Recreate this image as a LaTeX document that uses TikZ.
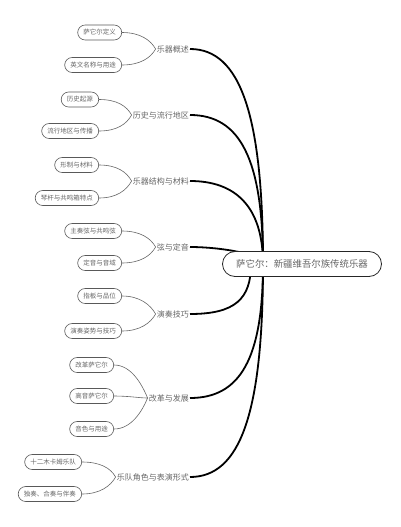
\documentclass[tikz,border=0pt]{standalone}
\usepackage{fontspec}
\newfontfamily\cjk{Noto Sans CJK SC}

\begin{document}
\begin{tikzpicture}[x=1pt,y=-1pt,
	leaf/.style={draw=black!65,line width=0.6pt,rounded corners=7.5pt,minimum height=15pt,inner xsep=5.75pt,inner ysep=0pt,anchor=east,text=black!60,font=\cjk\fontsize{6.5}{7}\selectfont},
	topic/.style={anchor=east,inner sep=1pt,text=black!60,font=\cjk\fontsize{8}{9}\selectfont},
	root/.style={draw=black!85,fill=white,line width=0.8pt,rounded corners=12.5pt,minimum height=25pt,minimum width=159pt,text=black!60,font=\cjk\fontsize{9.4}{11}\selectfont},
	twig/.style={draw=black!60,line width=0.6pt},
	limb/.style={draw=black,line width=1.8pt}]
	\useasboundingbox (0,0) rectangle (400,527);
	
	%TOPICS
	\node[topic] (t1) at (190,49) {乐器概述};
	\node[topic] (t2) at (190,115) {历史与流行地区};
	\node[topic] (t3) at (190,181) {乐器结构与材料};
	\node[topic] (t4) at (190,247) {弦与定音};
	\node[topic] (t5) at (190,314) {演奏技巧};
	\node[topic] (t6) at (190,398) {改革与发展};
	\node[topic] (t7) at (190,477) {乐队角色与表演形式};
	
	%LEAVES
	\node[leaf] (l11) at (122,32.5) {萨它尔定义};
	\node[leaf] (l12) at (122,65) {英文名称与用途};
	%
	\node[leaf] (l21) at (99,99.5) {历史起源};
	\node[leaf] (l22) at (99,131) {流行地区与传播};
	%
	\node[leaf] (l31) at (99,165) {形制与材料};
	\node[leaf] (l32) at (99,198) {琴杆与共鸣箱特点};
	%
	\node[leaf] (l41) at (122,231) {主奏弦与共鸣弦};
	\node[leaf] (l42) at (122,263) {定音与音域};
	%
	\node[leaf] (l51) at (122,296) {指板与品位};
	\node[leaf] (l52) at (122,331) {演奏姿势与技巧};
	%
	\node[leaf] (l61) at (114,365) {改革萨它尔};
	\node[leaf] (l62) at (114,396) {高音萨它尔};
	\node[leaf] (l63) at (114,429) {音色与用途};
	%
	\node[leaf] (l71) at (82,462) {十二木卡姆乐队};
	\node[leaf] (l72) at (82,494) {独奏、合奏与伴奏};
	
	%TWIGS
	\draw[twig] (l11.east) .. controls +(18,0) and +(-5,-9) .. (t1.west);
	\draw[twig] (l12.east) .. controls +(18,0) and +(-5,9) .. (t1.west);
	\draw[twig] (l21.east) .. controls +(18,0) and +(-5,-9) .. (t2.west);
	\draw[twig] (l22.east) .. controls +(18,0) and +(-5,9) .. (t2.west);
	\draw[twig] (l31.east) .. controls +(18,0) and +(-5,-9) .. (t3.west);
	\draw[twig] (l32.east) .. controls +(18,0) and +(-5,9) .. (t3.west);
	\draw[twig] (l41.east) .. controls +(18,0) and +(-5,-9) .. (t4.west);
	\draw[twig] (l42.east) .. controls +(18,0) and +(-5,9) .. (t4.west);
	\draw[twig] (l51.east) .. controls +(18,0) and +(-5,-9) .. (t5.west);
	\draw[twig] (l52.east) .. controls +(18,0) and +(-5,9) .. (t5.west);
	\draw[twig] (l61.east) .. controls +(18,0) and +(-5,-12) .. (t6.west);
	\draw[twig] (l62.east) .. controls +(15,0) and +(-8,0) .. (t6.west);
	\draw[twig] (l63.east) .. controls +(18,0) and +(-5,12) .. (t6.west);
	\draw[twig] (l71.east) .. controls +(18,0) and +(-5,-9) .. (t7.west);
	\draw[twig] (l72.east) .. controls +(18,0) and +(-5,9) .. (t7.west);
	
	%MAIN BRANCHES
	\coordinate (hub) at (263,264);
	\coordinate (hubb) at (251,264);
	\draw[limb] (t1.east) .. controls +(50,0) and +(0,-150) .. (hub);
	\draw[limb] (t2.east) .. controls +(50,0) and +(0,-105) .. (hub);
	\draw[limb] (t3.east) .. controls +(45,0) and +(0,-58) .. (hub);
	\draw[limb] (t4.east) .. controls +(30,0) and +(0,-10) .. (hub);
	\draw[limb] (t5.east) .. controls +(45,0) and +(0,35) .. (hubb);
	\draw[limb] (t6.east) .. controls +(50,0) and +(0,95) .. (hub);
	\draw[limb] (t7.east) .. controls +(50,0) and +(0,150) .. (hub);
	
	%ROOT
	\node[root] (root) at (302,264) {萨它尔：新疆维吾尔族传统乐器};
\end{tikzpicture}
\end{document}
